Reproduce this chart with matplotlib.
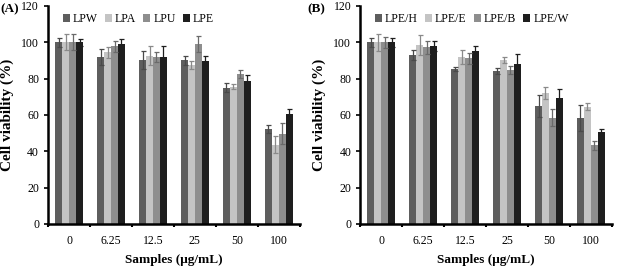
import matplotlib.pyplot as plt
import numpy as np

plt.rcParams['font.family'] = ['Liberation Serif', 'DejaVu Serif']

doses = ['0', '6.25', '12.5', '25', '50', '100']

names_a = ['LPW', 'LPA', 'LPU', 'LPE']
lpw = [100, 92, 90, 90, 75, 52]
lpa = [100, 94.5, 92.7, 87.6, 75.5, 43.7]
lpu = [100, 97.8, 91.8, 99, 82.7, 49.7]
lpe = [100, 99, 91.8, 89.8, 78.9, 60.5]
lpw_err = [2.4, 4.5, 5, 2.7, 2.5, 2.2]
lpa_err = [4.5, 3, 5.3, 2.2, 1.5, 4.5]
lpu_err = [4.5, 3, 2.7, 4.3, 2.2, 5.8]
lpe_err = [2, 3, 6, 2.4, 3, 2.5]

names_b = ['LPE/H', 'LPE/E', 'LPE/B', 'LPE/W']
lpe_h = [100, 93.1, 85.2, 84.1, 64.8, 58.5]
lpe_e = [100, 98.5, 92, 90.2, 72.2, 64.6]
lpe_b = [100, 97.2, 91.1, 84.8, 58.5, 43.2]
lpe_w = [100, 98.1, 95, 88, 69.4, 50.4]
lpe_h_err = [2.4, 2.6, 0.9, 1.6, 5.9, 7.2]
lpe_e_err = [4.6, 5.4, 3.7, 1.8, 3.2, 2]
lpe_b_err = [3, 3.5, 2.9, 2.2, 4.5, 2.7]
lpe_w_err = [2.4, 2.8, 3, 5.5, 4.6, 2]

colors = ['#5e5e5e', '#c4c4c4', '#8e8e8e', '#1e1e1e']
ecolors = ['#4a4a4a', '#8a8a8a', '#6a6a6a', '#1e1e1e']

fig = plt.figure(figsize=(6.18, 2.8), dpi=100)
ax_a = fig.add_axes([0.078, 0.2, 0.407, 0.779])
ax_b = fig.add_axes([0.583, 0.2, 0.407, 0.779])


def panel(ax, names, vals, errs):
        x = np.arange(len(doses)) + 0.5
        w = 0.165
        for i, (v, e) in enumerate(zip(vals, errs)):
                ax.bar(x + (i - 1.5) * w, v, w, color=colors[i], label=names[i],
                       yerr=e, error_kw=dict(ecolor=ecolors[i], elinewidth=0.9,
                                             capsize=1.8, capthick=0.9))
        ax.set_xlim(0, len(doses))
        ax.set_ylim(0, 120)
        ax.set_yticks(range(0, 121, 20))
        ax.set_xticks(range(0, len(doses) + 1))
        ax.set_xticklabels([])
        ax.set_xticks(x, minor=True)
        ax.set_xticklabels(doses, minor=True)
        ax.tick_params(axis='x', which='minor', length=0, pad=8, labelsize=8.5)
        ax.tick_params(axis='x', which='major', length=2.5, width=1.5, direction='out')
        ax.tick_params(axis='y', length=3, width=1.2, labelsize=8.5)
        for s in ['top', 'right']:
                ax.spines[s].set_visible(False)
        ax.spines['left'].set_linewidth(1.8)
        ax.spines['bottom'].set_linewidth(1.8)
        ax.set_ylabel('Cell viability (%)', fontweight='bold', fontsize=11, labelpad=5)
        ax.set_xlabel('Samples (μg/mL)', fontweight='bold', fontsize=9.5, labelpad=5)
        ax.legend(loc='upper left', bbox_to_anchor=(0.03, 1.0), ncol=4, frameon=False,
                  fontsize=8.5, handlelength=0.6, handleheight=0.6, handletextpad=0.25,
                  columnspacing=0.6, borderaxespad=0.2)


panel(ax_a, names_a, [lpw, lpa, lpu, lpe], [lpw_err, lpa_err, lpu_err, lpe_err])
panel(ax_b, names_b, [lpe_h, lpe_e, lpe_b, lpe_w],
      [lpe_h_err, lpe_e_err, lpe_b_err, lpe_w_err])

fig.text(0.0, 0.955, '(A)', fontweight='bold', fontsize=9.5)
fig.text(0.498, 0.955, '(B)', fontweight='bold', fontsize=9.5)

plt.savefig('out.png', dpi=100)
